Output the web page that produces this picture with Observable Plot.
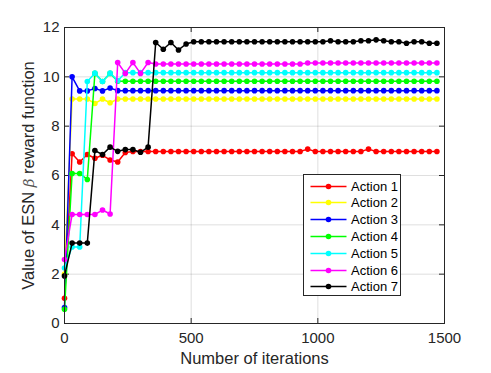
<!DOCTYPE html>
<html><head><meta charset="utf-8">
<script src="https://cdn.jsdelivr.net/npm/d3@7"></script>
<script src="https://cdn.jsdelivr.net/npm/@observablehq/plot@0.6"></script>
<style>
body{margin:0;background:#fff;}
#wrap{position:relative;width:491px;height:373px;font-family:"Liberation Sans",Arial,sans-serif;}
#legend{position:absolute;left:303px;top:174px;width:96px;height:120px;border:1px solid #262626;background:#fff;box-sizing:content-box;}
.row{position:absolute;left:0;height:17px;display:flex;align-items:center;}
.row span{font-size:13px;color:#000;margin-left:4px;white-space:nowrap;}
</style></head><body><div id="wrap"></div>
<script>
const iterations = [0,30,60,90,120,150,180,210,240,270,300,330,360,390,420,450,480,510,540,570,600,630,660,690,720,750,780,810,840,870,900,930,960,990,1020,1050,1080,1110,1140,1170,1200,1230,1260,1290,1320,1350,1380,1410,1440,1470];
const action1 = [1.02,6.88,6.55,6.85,6.70,6.82,6.63,6.55,6.93,6.97,6.97,6.97,6.97,6.97,6.97,6.97,6.97,6.97,6.97,6.97,6.97,6.97,6.97,6.97,6.97,6.97,6.97,6.97,6.97,6.97,6.97,6.97,7.07,6.97,6.97,6.97,6.97,6.97,6.97,6.97,7.07,6.97,6.97,6.97,6.97,6.97,6.97,6.97,6.97,6.97];
const action2 = [2.0,9.1,9.1,9.1,8.92,9.1,8.95,9.1,9.1,9.1,9.1,9.1,9.1,9.1,9.1,9.1,9.1,9.1,9.1,9.1,9.1,9.1,9.1,9.1,9.1,9.1,9.1,9.1,9.1,9.1,9.1,9.1,9.1,9.1,9.1,9.1,9.1,9.1,9.1,9.1,9.1,9.1,9.1,9.1,9.1,9.1,9.1,9.1,9.1,9.1];
const action3 = [0.65,10.0,9.43,9.43,9.53,9.43,9.55,9.44,9.44,9.44,9.44,9.44,9.44,9.44,9.44,9.44,9.44,9.44,9.44,9.44,9.44,9.44,9.44,9.44,9.44,9.44,9.44,9.44,9.44,9.44,9.44,9.44,9.44,9.44,9.44,9.44,9.44,9.44,9.44,9.44,9.44,9.44,9.44,9.44,9.44,9.44,9.44,9.44,9.44,9.44];
const action4 = [0.58,6.08,6.08,5.84,10.14,9.81,10.14,9.82,9.82,9.82,9.82,9.82,9.82,9.82,9.82,9.82,9.82,9.82,9.82,9.82,9.82,9.82,9.82,9.82,9.82,9.82,9.82,9.82,9.82,9.82,9.82,9.82,9.82,9.82,9.82,9.82,9.82,9.82,9.82,9.82,9.82,9.82,9.82,9.82,9.82,9.82,9.82,9.82,9.82,9.82];
const action5 = [2.25,3.1,3.1,9.81,10.15,9.81,10.15,9.84,10.17,10.17,10.17,10.17,10.17,10.17,10.17,10.17,10.17,10.17,10.17,10.17,10.17,10.17,10.17,10.17,10.17,10.17,10.17,10.17,10.17,10.17,10.17,10.17,10.17,10.17,10.17,10.17,10.17,10.17,10.17,10.17,10.17,10.17,10.17,10.17,10.17,10.17,10.17,10.17,10.17,10.17];
const action6 = [2.59,4.42,4.42,4.42,4.42,4.6,4.44,10.58,10.14,10.58,10.14,10.58,10.52,10.52,10.52,10.52,10.52,10.52,10.52,10.52,10.52,10.52,10.52,10.52,10.52,10.52,10.52,10.52,10.52,10.52,10.52,10.52,10.56,10.56,10.56,10.56,10.56,10.56,10.56,10.56,10.56,10.56,10.56,10.56,10.56,10.56,10.56,10.56,10.56,10.56];
const action7 = [1.93,3.26,3.26,3.26,7.01,6.85,7.15,6.98,7.05,7.05,6.94,7.15,11.39,11.12,11.39,11.09,11.33,11.42,11.42,11.42,11.42,11.42,11.42,11.42,11.42,11.42,11.42,11.42,11.42,11.42,11.42,11.42,11.42,11.42,11.42,11.46,11.42,11.42,11.42,11.46,11.46,11.5,11.46,11.42,11.42,11.36,11.42,11.42,11.36,11.36];
const seriesNames = ["Action 1","Action 2","Action 3","Action 4","Action 5","Action 6","Action 7"];
const seriesColors = ["#ff0000","#ffff00","#0000ff","#00ff00","#00ffff","#ff00ff","#000000"];
const xTicks = [0,500,1000,1500];
const yTicks = [0,2,4,6,8,10,12];
const xLabel = "Number of iterations";
const yLabel = "Value of ESN \u03b2 reward function";

const seriesValues = [action1,action2,action3,action4,action5,action6,action7];
const W = 491, H = 373, mt = 27, mb = 50, ml = 64, mr = 47;
const ph = H - mt - mb, pw = W - ml - mr;
const axisColor = "#262626";

const seriesMarks = seriesNames.flatMap((name, k) => {
  const rows = iterations.map((x, i) => ({x, y: seriesValues[k][i], s: name}));
  return [
    Plot.line(rows, {x: "x", y: "y", stroke: "s", strokeWidth: 1.5}),
    Plot.dot(rows, {x: "x", y: "y", fill: "s", r: 2.8})
  ];
});

const chart = Plot.plot({
  width: W, height: H,
  marginTop: mt, marginBottom: mb, marginLeft: ml, marginRight: mr,
  style: {fontFamily: '"Liberation Sans", Arial, sans-serif', fontSize: "15px", color: axisColor, background: "white", overflow: "visible"},
  x: {domain: [0, 1500], label: null},
  y: {domain: [0, 12], label: null},
  color: {domain: seriesNames, range: seriesColors},
  marks: [
    Plot.gridX(xTicks, {stroke: axisColor, strokeOpacity: 0.15}),
    Plot.gridY(yTicks, {stroke: axisColor, strokeOpacity: 0.15}),
    Plot.axisX(xTicks, {tickSize: 0, tickPadding: 9, fontSize: 15, fill: axisColor, tickFormat: d => String(d)}),
    Plot.axisY(yTicks, {tickSize: 0, tickPadding: 5, fontSize: 15, fill: axisColor, tickFormat: d => String(d)}),
    Plot.tickX(xTicks, {x: d => d, insetTop: ph - 5, stroke: axisColor}),
    Plot.tickX(xTicks, {x: d => d, insetBottom: ph - 5, stroke: axisColor}),
    Plot.tickY(yTicks, {y: d => d, insetRight: pw - 5, stroke: axisColor}),
    Plot.tickY(yTicks, {y: d => d, insetLeft: pw - 5, stroke: axisColor}),
    ...seriesMarks,
    Plot.frame({stroke: axisColor}),
    Plot.text([xLabel], {frameAnchor: "bottom", dy: 35, textAnchor: "middle", lineAnchor: "middle", fontSize: 16.5, fill: axisColor}),
    Plot.text([yLabel], {frameAnchor: "left", dx: -36, rotate: -90, textAnchor: "middle", lineAnchor: "middle", fontSize: 16.5, fill: axisColor})
  ]
});
document.getElementById("wrap").appendChild(chart);

// style the beta as an italic TeX-like symbol
d3.select(chart).selectAll("text").each(function() {
  const t = d3.select(this);
  if (t.text() === yLabel) {
    const parts = yLabel.split("\u03b2");
    t.text(null);
    t.append("tspan").text(parts[0]);
    t.append("tspan").attr("font-family", '"DejaVu Serif", "Liberation Serif", serif').attr("font-style", "italic").attr("fill", "#555").attr("font-size", 15).text("\u03b2");
    t.append("tspan").text(parts[1]);
  }
});

// legend
const legend = document.createElement("div");
legend.id = "legend";
seriesNames.forEach((name, k) => {
  const row = document.createElement("div");
  row.className = "row";
  row.style.top = (2.5 + k * 16.8) + "px";
  row.innerHTML = `<svg width="43" height="17"><line x1="6.5" x2="42.5" y1="8.5" y2="8.5" stroke="${seriesColors[k]}" stroke-width="1.5"/><circle cx="24.5" cy="8.5" r="2.8" fill="${seriesColors[k]}"/></svg><span>${name}</span>`;
  legend.appendChild(row);
});
document.getElementById("wrap").appendChild(legend);
</script>
</body></html>
